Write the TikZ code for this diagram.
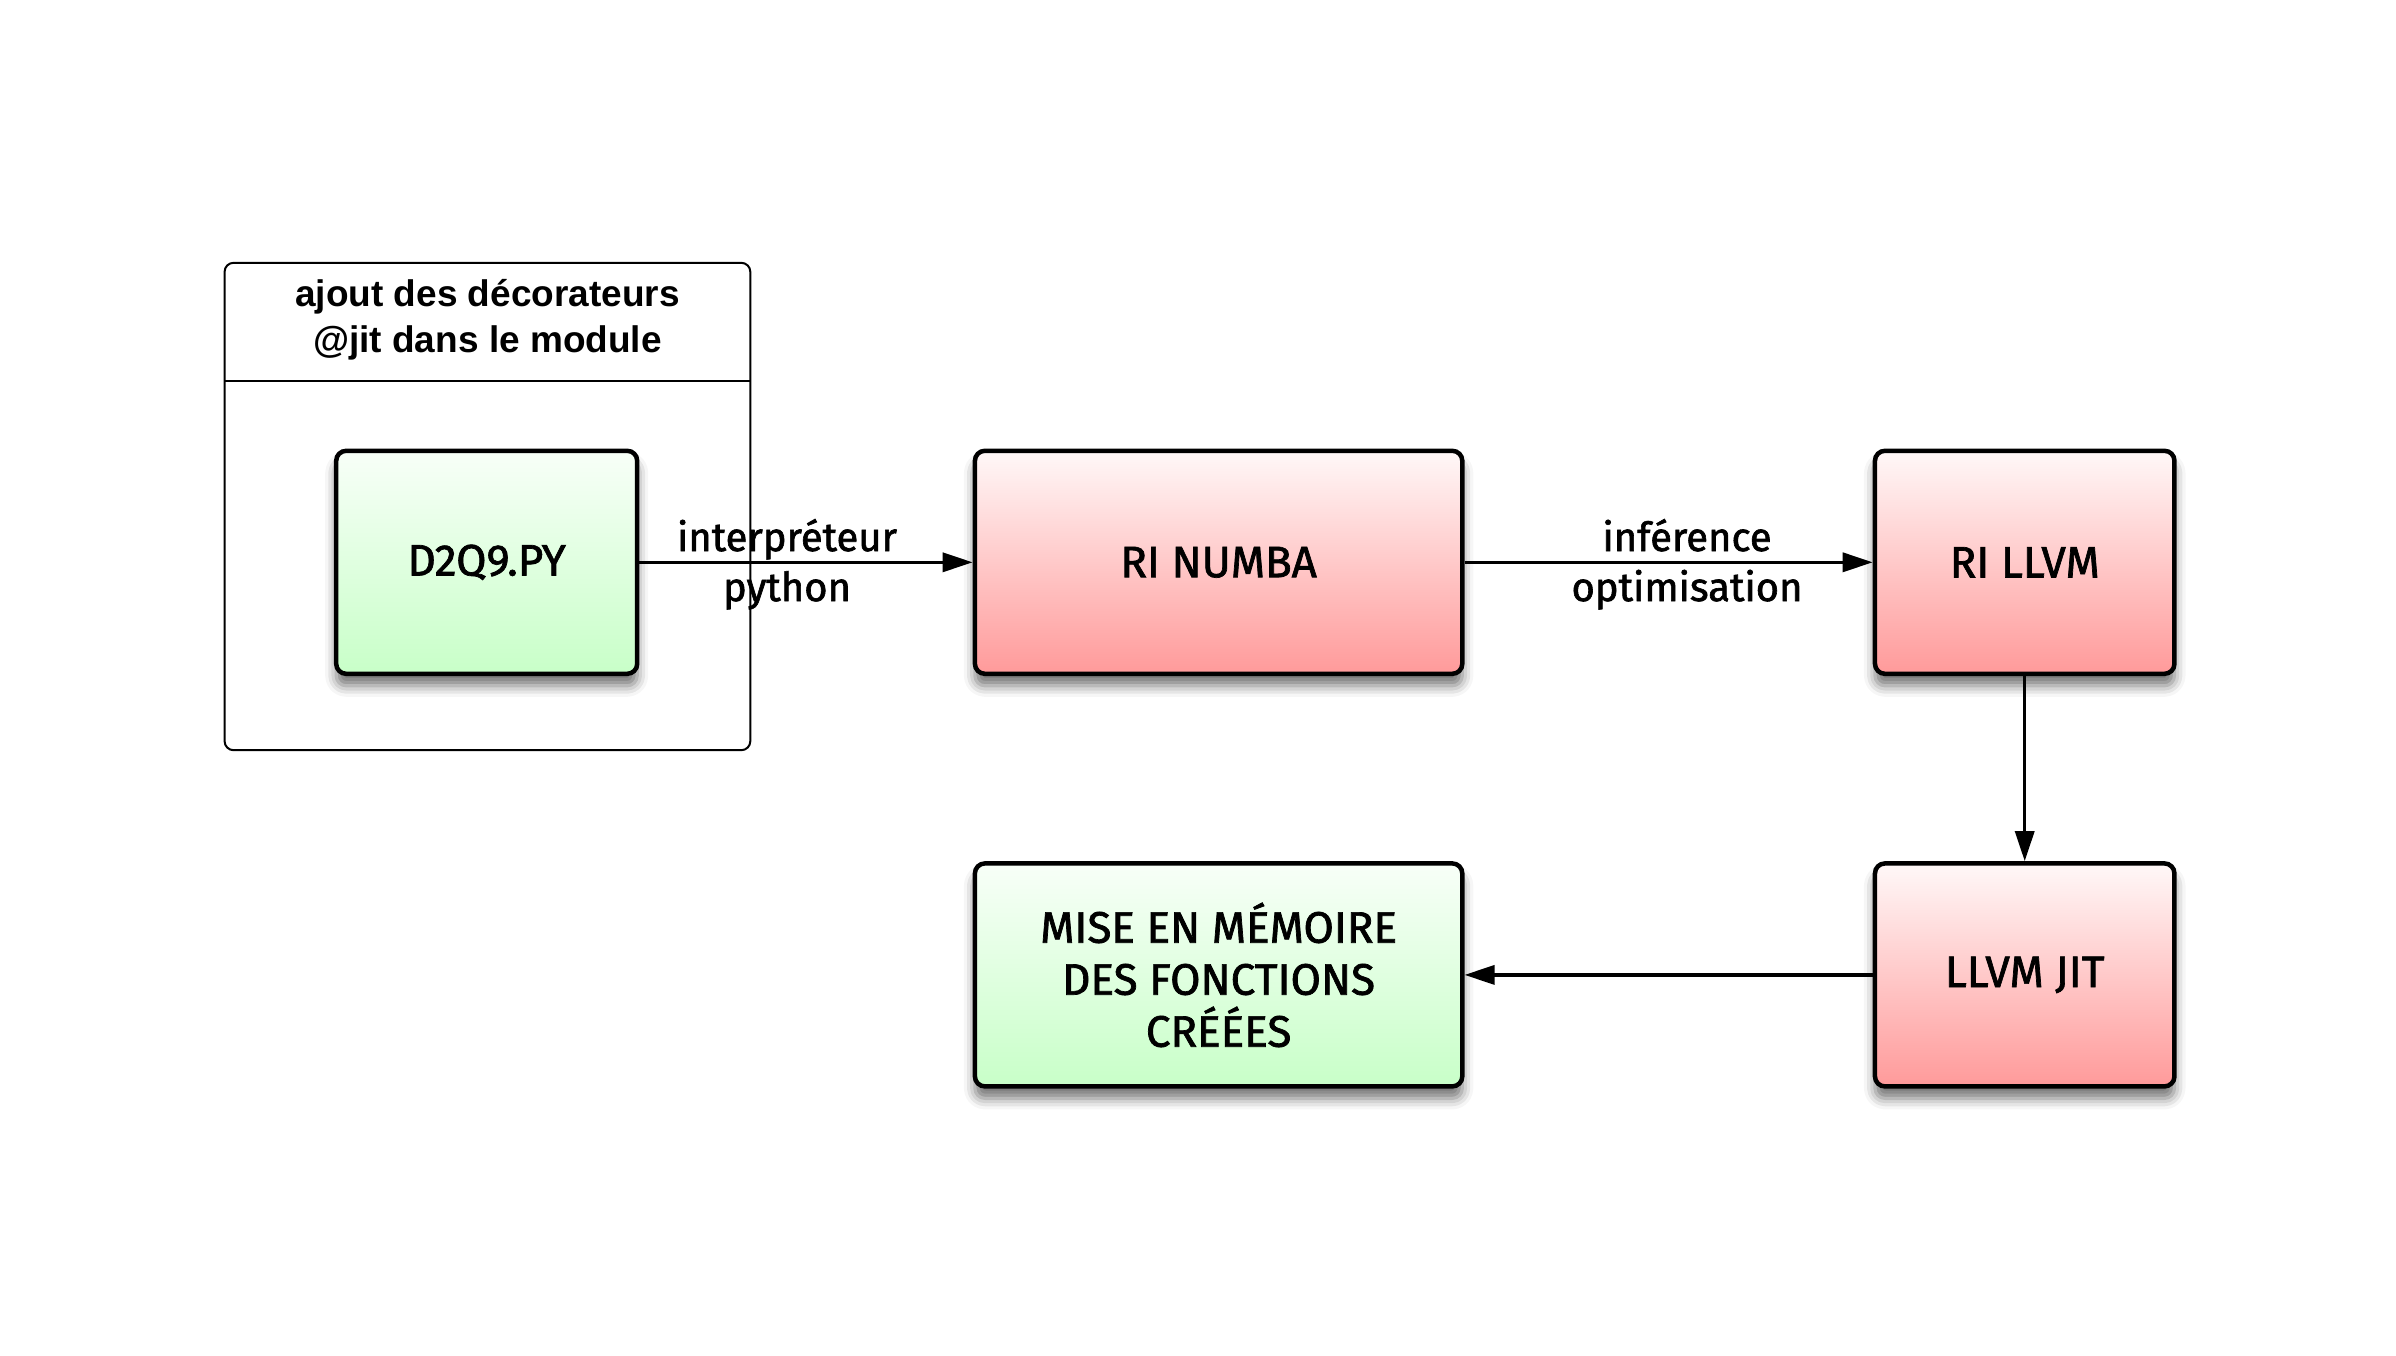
\documentclass[tikz,border=0pt]{standalone}
\usepackage{fontspec}
\setmainfont{Liberation Sans}
\newfontfamily\hand[FakeBold=1.6]{Fira Sans}
\usetikzlibrary{arrows.meta,shadows.blur}
\definecolor{redbot}{HTML}{FF9A9A}
\definecolor{redtop}{HTML}{FFF8F8}
\definecolor{grnbot}{HTML}{C8FFC8}
\definecolor{grntop}{HTML}{F8FFF8}
\tikzset{
  procbox/.style={draw=black, line width=4.5pt, rounded corners=10pt, inner sep=0pt,
    align=center, font=\hand\fontsize{44}{52}\selectfont,
    blur shadow={shadow xshift=0pt, shadow yshift=-12pt, shadow blur radius=11pt, shadow opacity=55}},
  redbox/.style={procbox, top color=redtop, bottom color=redbot},
  grnbox/.style={procbox, top color=grntop, bottom color=grnbot},
  conn/.style={line width=3.5pt, -{Triangle[length=30pt,width=19pt]}},
  elabel/.style={font=\hand\fontsize{40}{52}\selectfont, inner sep=0pt, anchor=base},
}
\begin{document}
\begin{tikzpicture}[x=1pt,y=-1pt]
\useasboundingbox (0,0) rectangle (2396,1355);
% container
\node[draw=black, line width=2pt, rounded corners=9pt, minimum width=525.7pt, minimum height=487.4pt, inner sep=0pt] (group) at (487.45,506.5) {};
\coordinate (hl) at (224.6,380.5);
\coordinate (hr) at (750.3,380.5);
\draw[line width=2pt] (hl) -- (hr);
\node[font=\bfseries\fontsize{37}{46}\selectfont, align=center, inner sep=0pt] (head) at (487.45,320) {ajout des décorateurs\\@jit dans le module};
% boxes
\node[grnbox, minimum width=301pt, minimum height=223pt] (d2q9) at (486.7,562.3) {D2Q9.PY};
\node[redbox, minimum width=487.4pt, minimum height=223pt] (numba) at (1218.6,562.3) {RI NUMBA};
\node[redbox, minimum width=299.5pt, minimum height=223pt] (rillvm) at (2024.7,562.3) {RI LLVM};
\node[redbox, minimum width=299.5pt, minimum height=223pt] (jit) at (2024.7,974.9) {LLVM JIT};
\node[grnbox, minimum width=487.4pt, minimum height=223pt] (mise) at (1218.6,974.9) {MISE EN MÉMOIRE\\DES FONCTIONS\\CRÉÉES};
% connectors
\draw[conn] (d2q9) -- (numba);
\draw[conn] (numba) -- (rillvm);
\draw[conn] (rillvm) -- (jit);
\draw[conn] (jit) -- (mise);
% labels
\node[elabel] (l1a) at (787,551) {interpréteur};
\node[elabel] (l1b) at (787,601) {python};
\node[elabel] (l2a) at (1687,551) {inférence};
\node[elabel] (l2b) at (1687,601) {optimisation};
\end{tikzpicture}
\end{document}
